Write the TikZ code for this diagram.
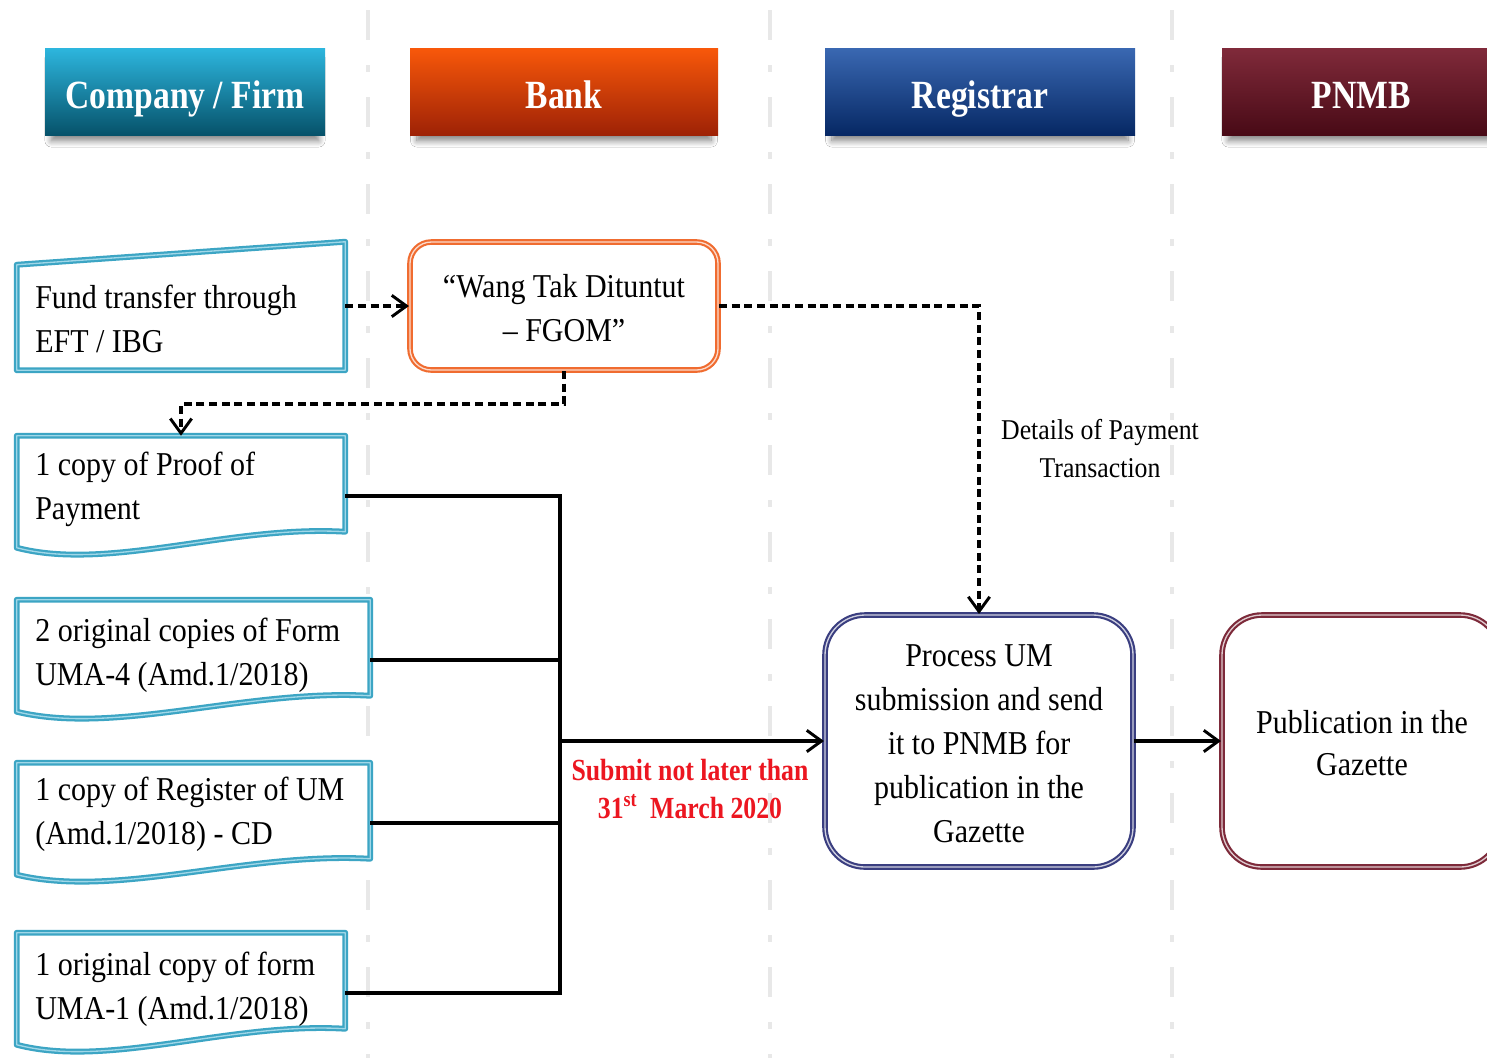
\documentclass[tikz,border=0pt]{standalone}
\usepackage{fontspec}
\setmainfont{Liberation Serif}[FakeStretch=0.9]
\newfontfamily\hdrfont{Liberation Serif}[FakeStretch=0.84]
\usetikzlibrary{arrows.meta,shadows.blur,calc}
\definecolor{tealA}{RGB}{45,182,222}
\definecolor{tealB}{RGB}{6,82,106}
\definecolor{bankA}{RGB}{248,88,10}
\definecolor{bankB}{RGB}{158,34,6}
\definecolor{regA}{RGB}{58,104,178}
\definecolor{regB}{RGB}{6,40,100}
\definecolor{pnA}{RGB}{128,42,58}
\definecolor{pnB}{RGB}{72,10,22}
\definecolor{doccol}{RGB}{60,165,196}
\definecolor{docinner}{RGB}{160,215,232}
\definecolor{bankline}{RGB}{240,108,48}
\definecolor{procline}{RGB}{58,62,128}
\definecolor{publine}{RGB}{125,42,58}
\definecolor{lanegray}{RGB}{232,232,232}
\definecolor{redtxt}{RGB}{236,22,32}
\begin{document}
\begin{tikzpicture}[x=0.75pt,y=-0.75pt,
  lane/.style={draw=lanegray, line width=3.5pt, dash pattern=on 22.5pt off 18.75pt on 5.25pt off 18.75pt},
  hdr/.style={inner sep=0pt, minimum height=65.25pt, text height=24.75pt, text depth=0pt, text=white,
    font=\hdrfont\fontsize{30}{36}\selectfont\bfseries,
    blur shadow={shadow xshift=0pt, shadow yshift=-6pt, shadow scale=0.955, shadow blur radius=5pt, shadow blur steps=10, shadow opacity=50}},
  holder/.style={inner sep=0pt, draw=none},
  docline/.style={draw=doccol, double=docinner, double distance=1pt, line width=1.7pt, fill=white, line join=round},
  rbox/.style={inner sep=0pt, fill=white, line width=1.6pt, double distance=1pt},
  body/.style={inner sep=0pt, font=\fontsize{25}{33}\selectfont, align=left, anchor=north west},
  bodyc/.style={inner sep=0pt, font=\fontsize{25}{33}\selectfont, align=center, anchor=north},
  dline/.style={draw=black, line width=2.4pt, dash pattern=on 6pt off 3.5pt},
  sline/.style={draw=black, line width=2.6pt},
  arr/.style={-{Straight Barb[length=11pt,width=16pt,line width=2.2pt]}}
]
\useasboundingbox (0,0) rectangle (1487,1058);
\fill[white] (0,0) rectangle (1487,1058);

% lane separators
\draw[lane] (368,10) -- (368,1058);
\draw[lane] (770,10) -- (770,1058);
\draw[lane] (1172,10) -- (1172,1058);

% headers
\node[hdr, top color=tealA, bottom color=tealB, minimum width=210pt] (hcomp) at (185,91.5) {Company / Firm};
\node[hdr, top color=bankA, bottom color=bankB, minimum width=231pt] (hbank) at (564,91.5) {Bank};
\node[hdr, top color=regA, bottom color=regB, minimum width=232.5pt] (hreg) at (980,91.5) {Registrar};
\node[hdr, top color=pnA, bottom color=pnB, minimum width=208.5pt] (hpnmb) at (1361,91.5) {PNMB};

% holders for document shapes
\node[holder, minimum width=246pt, minimum height=96pt] (fund) at (181,306) {};
\node[holder, minimum width=246pt, minimum height=90pt] (proof) at (181,496) {};
\node[holder, minimum width=264.75pt, minimum height=90pt] (uma4) at (193.5,660) {};
\node[holder, minimum width=264.75pt, minimum height=90pt] (reg) at (193.5,823) {};
\node[holder, minimum width=246pt, minimum height=90pt] (uma1) at (181,993) {};

% manual input shape
\path[docline] (fund.south west) -- (fund.south east) -- (fund.north east) -- ($(fund.north west)+(0,23)$) -- cycle;

% document shapes
\foreach \d in {proof,uma4,reg,uma1}{
  \path[docline] (\d.north west) -- (\d.north east) -- ($(\d.north east)+(0,96)$)
    .. controls ($(\d.north west)!0.65!(\d.north east)+(0,89)$) and ($(\d.north west)!0.28!(\d.north east)+(0,136)$)
    .. ($(\d.north west)+(0,112)$) -- cycle;
}

% rounded boxes
\node[rbox, draw=bankline, double=bankline!25, rounded corners=16pt, minimum width=231pt, minimum height=96pt] (wang) at (564,306) {};
\node[rbox, draw=procline, double=procline!25, rounded corners=30pt, minimum width=231pt, minimum height=189pt] (proc) at (979,741) {};
\node[rbox, draw=publine, double=publine!25, rounded corners=30pt, minimum width=208.5pt, minimum height=189pt] (pub) at (1361,741) {};

% connectors
\coordinate (busB) at (560,993);
\coordinate (busM) at (560,741);
\draw[dline, arr] (fund.east) -- (wang.west);
\draw[dline, arr] (wang.south) -- ++(0,33) -| (proof.north);
\draw[dline, arr] (wang.east) -| (proc.north);
\draw[sline] (proof.east) -| (busB) -- (uma1.east);
\draw[sline] (uma4.east) -- (uma4.east -| busB);
\draw[sline] (reg.east) -- (reg.east -| busB);
\draw[sline, arr] (busM) -- (proc.west);
\draw[sline, arr] (proc.east) -- (pub.west);

% texts
\node[body] (fundT) at (35,277) {\strut Fund transfer through\\EFT / IBG};
\node[bodyc] (wangT) at (564,266) {\strut “Wang Tak Dituntut\\– FGOM”};
\node[body] (proofT) at (35,444) {\strut 1 copy of Proof of\\Payment};
\node[body] (uma4T) at (35,610) {\strut 2 original copies of Form\\UMA-4 (Amd.1/2018)};
\node[body] (regT) at (35,769) {\strut 1 copy of Register of UM\\(Amd.1/2018) - CD};
\node[body] (uma1T) at (35,944) {\strut 1 original copy of form\\UMA-1 (Amd.1/2018)};
\node[bodyc] (procT) at (979,635) {\strut Process UM\\submission and send\\it to PNMB for\\publication in the\\Gazette};
\node[bodyc, font=\fontsize{25}{31.5}\selectfont] (pubT) at (1362,704) {\strut Publication in the\\Gazette};
\node[inner sep=0pt, align=center, anchor=north, font=\fontsize{21.5}{28.5}\selectfont] (detT) at (1100,413) {\strut Details of Payment\\Transaction};
\node[inner sep=0pt, align=center, anchor=north, text=redtxt, font=\hdrfont\fontsize{23}{28.5}\selectfont\bfseries] (redT) at (690,754) {\strut Submit not later than\\31\textsuperscript{st}\ \ March 2020};
\end{tikzpicture}
\end{document}
